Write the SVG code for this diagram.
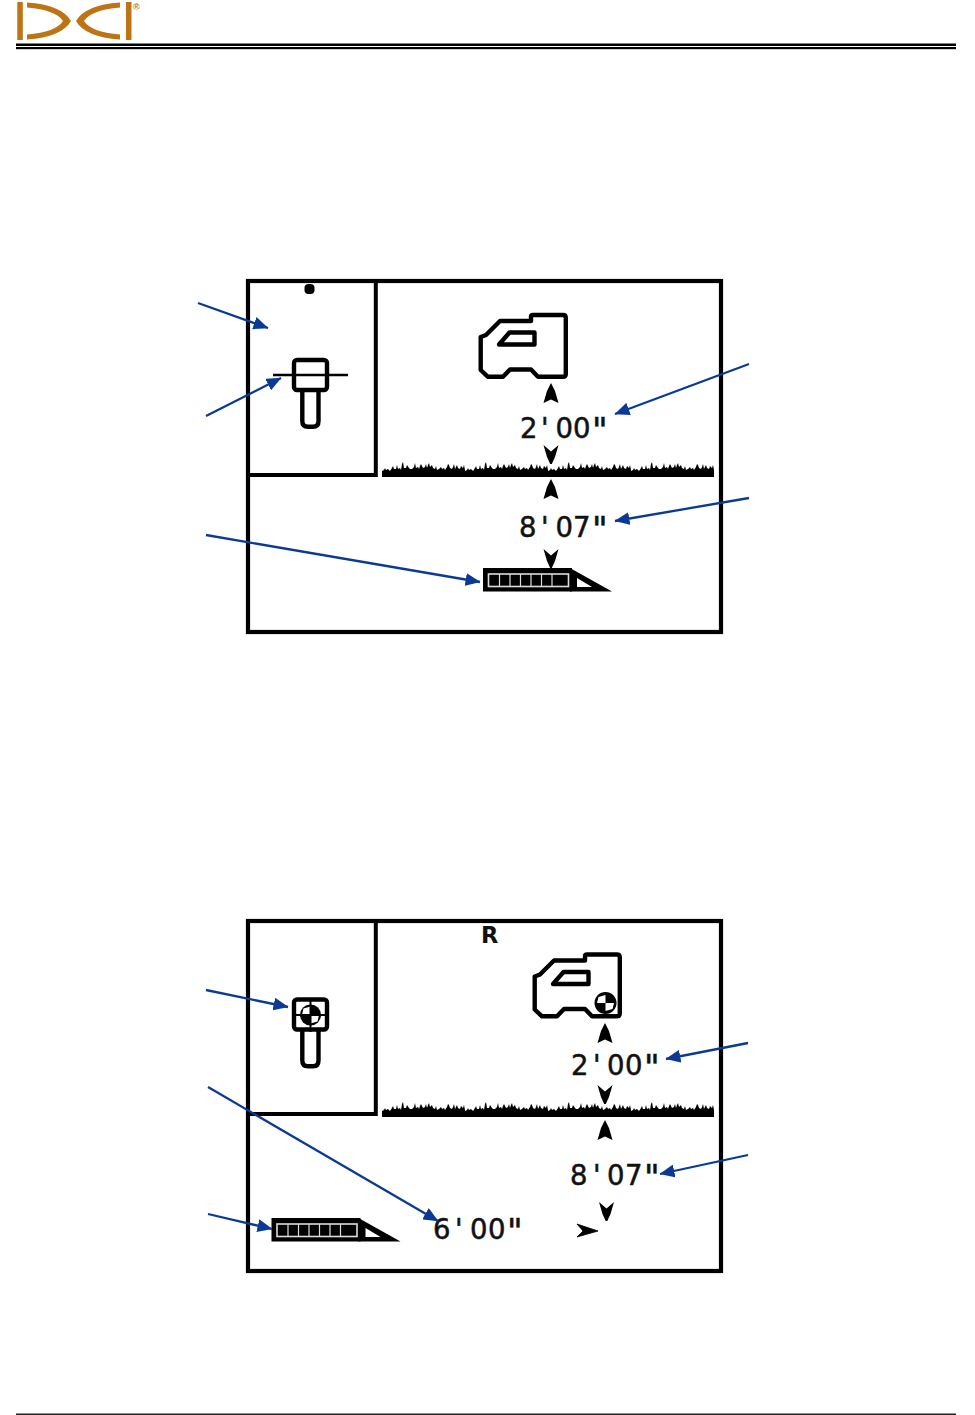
<svg xmlns="http://www.w3.org/2000/svg" xmlns:xlink="http://www.w3.org/1999/xlink" width="975" height="1415" viewBox="0 0 975 1415">
<style>
.frame{fill:none;stroke:#000;stroke-width:4.200;stroke-linejoin:miter}
.div{fill:none;stroke:#000;stroke-width:4}
.out{fill:none;stroke:#000;stroke-width:4.400;stroke-linejoin:round}
.val{font-family:"DejaVu Sans",sans-serif;font-size:27.500px;fill:#111;stroke:#111;stroke-width:.5}
.ptr{fill:none;stroke:#0b3a96;stroke-width:2.300;marker-end:url(#ah)}
.gold{fill:#bc7415}
</style>
<defs>
<marker id="ah" viewBox="0 0 15 13" refX="14.500" refY="6.500" markerUnits="userSpaceOnUse" markerWidth="15" markerHeight="13" orient="auto"><path d="M0 0L15 6.500L0 13Z" fill="#0b3a96"/></marker>
<polygon id="tile" points="0,477 0,471 2,470 3,468 4,470 6,469 8,471 10,468 11,466 12,469 14,469 15,465 16,469 18,468 19,470 20,464 21,462 22,468 24,468 25,465 27,468 28,469 30,469 32,467 33,463 34,468 36,467 37,469 38,466 39,464 41,468 43,467 44,464 45,468 46,465 47,463 48,467 50,465 51,468 53,469 54,466 55,470 57,469 59,467 60,469 62,468 63,470 65,467 66,464 67,465 68,468 70,469 71,467 72,464 73,469 75,465 76,468 78,469 79,466 81,468 82,465 83,470 83,477"/>
<g id="grass"><use xlink:href="#tile" x="382"/><use xlink:href="#tile" x="465"/><use xlink:href="#tile" x="548"/><use xlink:href="#tile" x="631"/></g>
<path id="up" d="M0 0L4 8L7.500 20L0 16.500L-7.500 20L-4 8Z" fill="#000"/>
<path id="down" d="M-7.500 0L0 6.500L7.500 0L4 12L.8 19H-.8L-4 12Z" fill="#000"/>
<g id="receiver">
<path class="out" d="M480.700 337L486 335L500 321H531V317Q531 315 533 315H563Q565.800 315 565.800 318V374Q565.800 376.800 563 376.800H538L531 369.500H510L503 376.800H488L480.700 370Z"/>
<path class="out" d="M499 344.500L509.500 332.500H534.500V344.500Z"/>
</g>
<g id="tool">
<rect x="294" y="360" width="33" height="30" rx="3" class="out"/>
<path class="out" d="M302.300 391V421Q302.300 426.800 308 426.800H313Q318.500 426.800 318.500 421V391"/>
</g>
<g id="wedge">
<rect x="483" y="568" width="89" height="23.500" fill="#000"/>
<path d="M570 568L612 591.500H570Z" fill="#000"/>
<path d="M577 578L592 587H577Z" fill="#fff"/>
<rect x="488.500" y="574" width="80" height="12.500" fill="#000" stroke="#ddd" stroke-width="1.600"/>
<path d="M499.500 574v12.500M510 574v12.500M520.500 574v12.500M531 574v12.500M541.500 574v12.500M552 574v12.500" stroke="#ddd" stroke-width="1.200"/>
</g>
</defs>

<g id="logo">
<rect class="gold" x="17.300" y="2" width="5.500" height="38"/>
<path class="gold" d="M27 2.500Q62 5 71 21Q62 37 27 39.500V34.500Q56 32 63 21Q56 10 27 7.500Z"/>
<path class="gold" d="M120 2.500Q85 5 76 21Q85 37 120 39.500V34.500Q91 32 84 21Q91 10 120 7.500Z"/>
<rect class="gold" x="126" y="2" width="5.500" height="38"/>
<text x="133" y="9.500" font-family="'Liberation Sans',sans-serif" font-weight="700" font-size="9" fill="#bc7415">®</text>
</g>
<g id="header-rule">
<rect x="16" y="43.500" width="940" height="2.500" fill="#000"/>
<rect x="16" y="47" width="940" height="2.200" fill="#000"/>
</g>
<rect id="footer-rule" x="16" y="1413.500" width="940" height="1.500" fill="#222"/>

<g id="display-top">
<rect class="frame" x="248" y="281" width="473" height="351"/>
<path class="div" d="M375.800 281V475H248"/>
<rect x="304.500" y="284" width="10" height="10" rx="4" fill="#000"/>
<use xlink:href="#tool"/>
<path d="M273 375H348" stroke="#000" stroke-width="2.500"/>
<use xlink:href="#receiver"/>
<use xlink:href="#up" x="551" y="383"/>
<use xlink:href="#down" x="551" y="445"/>
<use xlink:href="#grass"/>
<use xlink:href="#up" x="551" y="479"/>
<use xlink:href="#down" x="551" y="549"/>
<use xlink:href="#wedge"/>
<text class="val" x="520 541 555.500 573 592" y="437.500">2'00<tspan font-size="34" y="441.500">"</tspan></text>
<text class="val" x="519 541 555.500 573 592" y="536.500">8'07<tspan font-size="34" y="540.500">"</tspan></text>
</g>

<g id="display-bottom">
<rect class="frame" x="248" y="921" width="473" height="350"/>
<path class="div" d="M375.800 921V1114H248"/>
<text x="481" y="943" font-family="'DejaVu Sans',sans-serif" font-weight="700" font-size="22.500" fill="#111">R</text>
<use xlink:href="#tool" y="639.500"/>
<circle cx="310.500" cy="1015" r="10.500" fill="#000"/>
<path d="M310.500 1015H302L303.500 1008.500L310.500 1006.500ZM310.500 1015H319L317.500 1021.500L310.500 1023.500Z" fill="#fff"/>
<path d="M293 1015H328M310.500 998V1032" stroke="#000" stroke-width="2"/>
<use xlink:href="#receiver" x="54" y="639.500"/>
<circle cx="605.500" cy="1003" r="11" fill="#000"/>
<path d="M605.500 1003H597L598.500 997L605.500 995ZM605.500 1003H614L612.500 1009L605.500 1011Z" fill="#fff"/>
<use xlink:href="#up" x="605" y="1023"/>
<use xlink:href="#down" x="605" y="1085"/>
<use xlink:href="#grass" y="640"/>
<use xlink:href="#up" x="605" y="1120"/>
<use xlink:href="#down" x="606.500" y="1202"/>
<path d="M577 1224L598 1231L577 1237L583 1231Z" fill="#000" stroke="#000" stroke-width=".8"/>
<use xlink:href="#wedge" x="-211.500" y="650"/>
<text class="val" x="571 593 607 625 644" y="1074.500">2'00<tspan font-size="34" y="1078.500">"</tspan></text>
<text class="val" x="570 593 607 625 644" y="1185">8'07<tspan font-size="34" y="1189">"</tspan></text>
<text class="val" x="433 455 470 488 507" y="1239">6'00<tspan font-size="34" y="1243">"</tspan></text>
</g>

<g id="connectors">
<path class="ptr" d="M198 303L268 328"/>
<path class="ptr" d="M206 416L281 378"/>
<path class="ptr" d="M749 364L615 414"/>
<path class="ptr" d="M749 498L615 521"/>
<path class="ptr" d="M206 535L480 582"/>
<path class="ptr" d="M206 990L288 1007"/>
<path class="ptr" d="M208 1087L438 1221"/>
<path class="ptr" d="M208 1214L272 1229"/>
<path class="ptr" d="M748 1043L666 1059"/>
<path class="ptr" d="M748 1155L660 1174"/>
</g>
</svg>
